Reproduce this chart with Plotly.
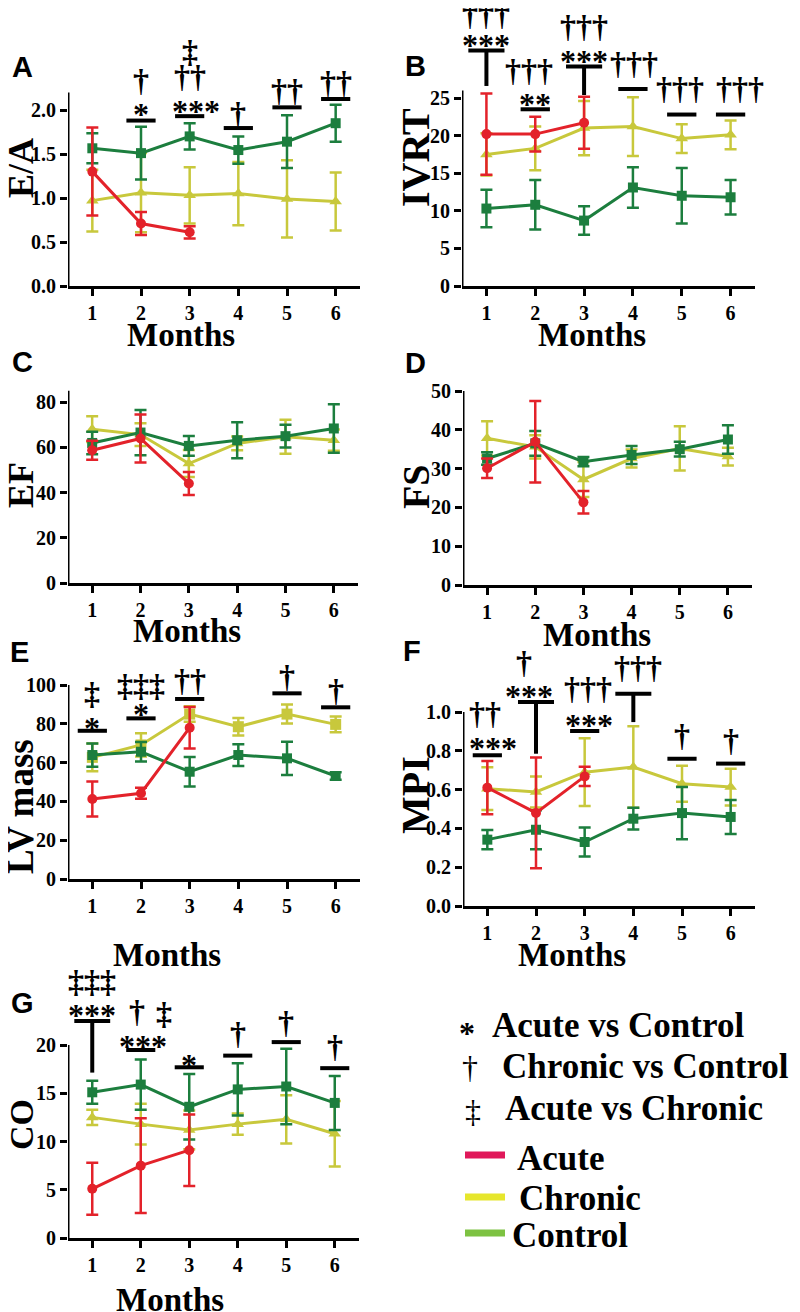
import plotly.graph_objects as go

W, H = 800, 1312
OX, OY = 8, 8  # page offset of the plot div inside the browser window
SERIF = "Liberation Serif"
SANS = "Liberation Sans"

months = [1, 2, 3, 4, 5, 6]
acute_months = [1, 2, 3]
tick_months = ["1", "2", "3", "4", "5", "6"]

# ---------------- data (mean, error) ----------------
# A  E/A
ea_acute = [1.30, 0.71, 0.61]
ea_acute_err = [0.50, 0.13, 0.07]
ea_chronic = [0.97, 1.06, 1.03, 1.05, 0.99, 0.96]
ea_chronic_err = [0.35, 0.45, 0.32, 0.36, 0.44, 0.33]
ea_control = [1.565, 1.51, 1.70, 1.545, 1.64, 1.85]
ea_control_err = [0.17, 0.30, 0.15, 0.155, 0.30, 0.21]

# B  IVRT
ivrt_acute = [20.2, 20.2, 21.7]
ivrt_acute_err = [5.4, 2.3, 3.45]
ivrt_chronic = [17.5, 18.3, 21.0, 21.2, 19.6, 20.1]
ivrt_chronic_err = [2.8, 2.9, 3.6, 3.9, 1.9, 1.9]
ivrt_control = [10.3, 10.8, 8.7, 13.1, 12.0, 11.8]
ivrt_control_err = [2.5, 3.3, 1.9, 2.7, 3.7, 2.3]

# C  EF
ef_acute = [58.7, 63.9, 44.0]
ef_acute_err = [4.2, 10.6, 5.1]
ef_chronic = [68.0, 65.6, 52.8, 61.7, 64.6, 63.1]
ef_chronic_err = [5.7, 5.0, 6.0, 3.0, 7.5, 4.7]
ef_control = [61.9, 66.5, 60.6, 63.1, 64.9, 68.3]
ef_control_err = [5.0, 10.0, 4.4, 8.0, 5.0, 10.7]

# D  FS
fs_acute = [30.1, 36.9, 21.3]
fs_acute_err = [2.5, 10.5, 2.9]
fs_chronic = [37.8, 35.6, 27.2, 32.6, 35.2, 33.1]
fs_chronic_err = [4.4, 3.0, 4.5, 2.3, 5.7, 2.3]
fs_control = [32.6, 36.5, 31.8, 33.5, 35.0, 37.5]
fs_control_err = [1.6, 3.2, 1.2, 2.3, 1.9, 3.7]

# E  LV mass
lv_acute = [41.2, 44.2, 78.0]
lv_acute_err = [9.0, 2.8, 10.7]
lv_chronic = [62.7, 69.1, 85.0, 78.5, 85.0, 79.7]
lv_chronic_err = [7.1, 6.0, 4.0, 4.5, 4.9, 4.0]
lv_control = [63.9, 65.6, 55.3, 63.9, 62.2, 53.1]
lv_control_err = [6.0, 5.0, 7.6, 5.6, 8.6, 1.9]

# F  MPI
mpi_acute = [0.61, 0.48, 0.668]
mpi_acute_err = [0.137, 0.285, 0.05]
mpi_chronic = [0.605, 0.588, 0.69, 0.716, 0.63, 0.613]
mpi_chronic_err = [0.11, 0.08, 0.175, 0.21, 0.093, 0.095]
mpi_control = [0.342, 0.393, 0.33, 0.45, 0.479, 0.459]
mpi_control_err = [0.05, 0.10, 0.075, 0.056, 0.135, 0.088]

# G  CO
co_acute = [5.1, 7.5, 9.1]
co_acute_err = [2.7, 4.9, 3.7]
co_chronic = [12.5, 11.8, 11.2, 11.8, 12.3, 10.8]
co_chronic_err = [0.8, 2.1, 2.0, 1.1, 2.5, 3.4]
co_control = [15.1, 15.9, 13.6, 15.4, 15.7, 14.0]
co_control_err = [1.2, 2.6, 3.4, 2.7, 3.9, 2.8]

# significance marks: (month, bar level, stem bottom or None, rows[(text, level, x offset)])
sig_a = [
    (2, 1.88, None, [("*", 2.02, 0), ("†", 2.32, 0)]),
    (3, 1.93, None, [("***", 2.06, 0.12), ("††", 2.36, 0), ("‡", 2.65, 0)]),
    (4, 1.795, None, [("†", 1.94, 0)]),
    (5, 2.03, None, [("††", 2.2, 0)]),
    (6, 2.125, None, [("††", 2.3, 0)]),
]
sig_b = [
    (1, 31.3, 26.6, [("***", 32.8, 0), ("†††", 35.9, 0)]),
    (2, 23.5, None, [("**", 24.96, 0), ("†††", 28.5, -0.12)]),
    (3, 29.2, 25.4, [("***", 30.7, 0), ("†††", 34.3, 0)]),
    (4, 26.2, None, [("†††", 29.4, 0.02)]),
    (5, 22.8, None, [("†††", 26.1, -0.04)]),
    (6, 22.8, None, [("†††", 26.1, 0.2)]),
]
sig_e = [
    (1, 76.4, None, [("*", 81.1, 0), ("‡", 94.8, 0)]),
    (2, 82.8, None, [("*", 88.0, 0), ("‡‡‡", 99.1, 0)]),
    (3, 92.8, None, [("††", 101.7, 0)]),
    (5, 95.7, None, [("†", 103.4, 0)]),
    (6, 88.5, None, [("†", 96.5, 0)]),
]
sig_f = [
    (1, 0.777, None, [("***", 0.845, 0.12), ("††", 0.983, -0.05)]),
    (2, 1.052, 0.785, [("***", 1.112, -0.14), ("†", 1.249, -0.24)]),
    (3, 0.902, None, [("***", 0.966, 0.08), ("†††", 1.112, 0.07)]),
    (4, 1.094, 0.948, [("†††", 1.223, 0.09)]),
    (5, 0.759, None, [("†", 0.871, 0)]),
    (6, 0.734, None, [("†", 0.845, 0)]),
]
sig_g = [
    (1, 22.48, 17.14, [("***", 23.69, 0), ("‡‡‡", 26.4, 0)]),
    (2, 19.48, None, [("***", 20.5, 0.05), ("†", 23.3, -0.08), ("‡", 23.1, 0.47)]),
    (3, 17.69, None, [("*", 18.6, 0)]),
    (4, 18.9, None, [("†", 21.0, 0)]),
    (5, 20.3, None, [("†", 22.2, 0)]),
    (6, 17.6, None, [("†", 19.66, 0)]),
]

RED = "#E3222A"
YEL = "#C8C83C"
GRN = "#1C7E3E"

panels = [
    dict(letter="A", title="E/A", tsize=36, tpos=(21, 168), mpos=(181, 335), lpos=(22, 67),
         xl=68, xr=360, y0=286, ref=(2.0, 110), top=2.2, ext=25,
         ticks=[0, 0.5, 1.0, 1.5, 2.0], fmt="{:.1f}",
         acute=(ea_acute, ea_acute_err), chronic=(ea_chronic, ea_chronic_err),
         control=(ea_control, ea_control_err), sig=sig_a, chsym="triangle-up"),
    dict(letter="B", title="IVRT", tsize=40, tpos=(415, 158), mpos=(592, 335), lpos=(415, 66),
         xl=462, xr=755, y0=286, ref=(25, 98), top=26, ext=0,
         ticks=[0, 5, 10, 15, 20, 25], fmt="{:d}",
         acute=(ivrt_acute, ivrt_acute_err), chronic=(ivrt_chronic, ivrt_chronic_err),
         control=(ivrt_control, ivrt_control_err), sig=sig_b, chsym="triangle-up"),
    dict(letter="C", title="EF", tsize=36, tpos=(21, 485), mpos=(187, 631), lpos=(22, 362),
         xl=68, xr=358, y0=583, ref=(80, 402), top=85, ext=375,
         ticks=[0, 20, 40, 60, 80], fmt="{:d}",
         acute=(ef_acute, ef_acute_err), chronic=(ef_chronic, ef_chronic_err),
         control=(ef_control, ef_control_err), sig=[], chsym="triangle-up"),
    dict(letter="D", title="FS", tsize=38, tpos=(416, 487), mpos=(597, 635), lpos=(415, 363),
         xl=463, xr=752, y0=585, ref=(50, 391), top=50, ext=385,
         ticks=[0, 10, 20, 30, 40, 50], fmt="{:d}",
         acute=(fs_acute, fs_acute_err), chronic=(fs_chronic, fs_chronic_err),
         control=(fs_control, fs_control_err), sig=[], chsym="triangle-up"),
    dict(letter="E", title="LV mass", tsize=37, tpos=(20, 807), mpos=(167, 955), lpos=(19, 652),
         xl=68, xr=360, y0=879, ref=(100, 685), top=100, ext=655,
         ticks=[0, 20, 40, 60, 80, 100], fmt="{:d}",
         acute=(lv_acute, lv_acute_err), chronic=(lv_chronic, lv_chronic_err),
         control=(lv_control, lv_control_err), sig=sig_e, chsym="square"),
    dict(letter="F", title="MPI", tsize=40, tpos=(415, 795), mpos=(572, 955), lpos=(412, 651),
         xl=463, xr=755, y0=906, ref=(1.0, 712), top=1.0, ext=650,
         ticks=[0, 0.2, 0.4, 0.6, 0.8, 1.0], fmt="{:.1f}",
         acute=(mpi_acute, mpi_acute_err), chronic=(mpi_chronic, mpi_chronic_err),
         control=(mpi_control, mpi_control_err), sig=sig_f, chsym="triangle-up"),
    dict(letter="G", title="CO", tsize=34, tpos=(21, 1125), mpos=(170, 1300), lpos=(22, 1003),
         xl=68, xr=359, y0=1238, ref=(20, 1045), top=20, ext=975,
         ticks=[0, 5, 10, 15, 20], fmt="{:d}",
         acute=(co_acute, co_acute_err), chronic=(co_chronic, co_chronic_err),
         control=(co_control, co_control_err), sig=sig_g, chsym="triangle-up"),
]


def px(x):
    return min(max((x - OX) / W, 0.0), 1.0)


def py(y):
    return min(max(1 - (y - OY) / H, 0.0), 1.0)


fig = go.Figure()
layout = {}
shapes = []
annotations = []

for i, p in enumerate(panels, start=1):
    xa = "x" if i == 1 else f"x{i}"
    ya = "y" if i == 1 else f"y{i}"
    scale = (p["y0"] - p["ref"][1]) / p["ref"][0]
    ext_px = max(p["ext"], OY)
    ext_top = (p["y0"] - ext_px) / scale
    layout["xaxis" if i == 1 else f"xaxis{i}"] = dict(
        domain=[px(p["xl"]), px(p["xr"])], range=[0.5, 6.5], anchor=ya, automargin=False,
        tickvals=months, ticktext=tick_months, showline=True, linecolor="black", linewidth=3,
        ticks="outside", ticklen=7, tickwidth=3, tickcolor="black",
        showgrid=False, zeroline=False, fixedrange=True,
        tickfont=dict(family=SERIF, size=20, color="black", weight="bold"))
    layout["yaxis" if i == 1 else f"yaxis{i}"] = dict(
        domain=[py(p["y0"]), py(ext_px)], range=[0, ext_top], anchor=xa, automargin=False,
        tickvals=p["ticks"], ticktext=[p["fmt"].format(v) for v in p["ticks"]],
        showline=False, ticks="outside", ticklen=7, tickwidth=3, tickcolor="black",
        showgrid=False, zeroline=False, fixedrange=True,
        tickfont=dict(family=SERIF, size=20, color="black", weight="bold"))

    # y axis line (only up to the axis top value)
    fig.add_trace(go.Scatter(x=[0.5, 0.5], y=[0, p["top"]], mode="lines",
                             line=dict(color="black", width=3), cliponaxis=False,
                             hoverinfo="skip", showlegend=False, xaxis=xa, yaxis=ya))

    series = [
        (months, p["chronic"], YEL, p["chsym"], 11),
        (months, p["control"], GRN, "square", 10),
        (acute_months, p["acute"], RED, "circle", 10),
    ]
    for xs, (vals, errs), col, sym, ms in series:
        fig.add_trace(go.Scatter(
            x=xs, y=vals, mode="lines+markers",
            line=dict(color=col, width=3),
            marker=dict(symbol=sym, size=ms, color=col),
            error_y=dict(type="data", array=errs, visible=True, color=col, thickness=2.5, width=6),
            cliponaxis=False, showlegend=False, xaxis=xa, yaxis=ya))

    for (m, bar, stem, rows) in p["sig"]:
        half = 0.37 if stem is not None else 0.3
        shapes.append(dict(type="line", xref=xa, yref=ya, x0=m - half, x1=m + half,
                           y0=bar, y1=bar, line=dict(color="black", width=4)))
        if stem is not None:
            shapes.append(dict(type="line", xref=xa, yref=ya, x0=m, x1=m,
                               y0=stem, y1=bar, line=dict(color="black", width=4)))
        for text, lvl, dx in rows:
            shift = -6 if "*" in text else 2
            annotations.append(dict(xref=xa, yref=ya, x=m + dx, y=lvl, text=text,
                                    showarrow=False, xanchor="center", yanchor="middle",
                                    yshift=shift,
                                    font=dict(family=SERIF, size=32, color="black", weight="bold")))

    # y title
    annotations.append(dict(xref="paper", yref="paper", x=px(p["tpos"][0]), y=py(p["tpos"][1]),
                            text=p["title"], textangle=-90, showarrow=False,
                            xanchor="center", yanchor="middle",
                            font=dict(family=SERIF, size=p["tsize"], color="black", weight="bold")))
    # x title
    annotations.append(dict(xref="paper", yref="paper", x=px(p["mpos"][0]), y=py(p["mpos"][1]),
                            text="Months", showarrow=False, xanchor="center", yanchor="middle",
                            font=dict(family=SERIF, size=33, color="black", weight="bold")))
    # panel letter
    annotations.append(dict(xref="paper", yref="paper", x=px(p["lpos"][0]), y=py(p["lpos"][1]),
                            text=p["letter"], showarrow=False, xanchor="center", yanchor="middle",
                            font=dict(family=SANS, size=29, color="black", weight="bold")))

# ---------------- legend ----------------
sig_legend_symbols = ["*", "†", "‡"]
sig_legend_labels = ["Acute vs Control", "Chronic vs Control", "Acute vs Chronic"]
sig_sym_pos = [(467, 1027), (470, 1067), (473, 1111)]
sig_lab_pos = [(490, 1025), (500, 1066), (503, 1108)]
for s, lab, sp, lp in zip(sig_legend_symbols, sig_legend_labels, sig_sym_pos, sig_lab_pos):
    annotations.append(dict(xref="paper", yref="paper", x=px(sp[0]), y=py(sp[1]), text=s,
                            showarrow=False, xanchor="center", yanchor="middle",
                            yshift=-6 if s == "*" else 0,
                            font=dict(family=SERIF, size=32, color="black",
                                      weight="bold" if s == "*" else "normal")))
    annotations.append(dict(xref="paper", yref="paper", x=px(lp[0]), y=py(lp[1]), text=lab,
                            showarrow=False, xanchor="left", yanchor="middle",
                            font=dict(family=SERIF, size=35, color="black", weight="bold")))

group_labels = ["Acute", "Chronic", "Control"]
group_colors = ["#E0185A", "#E6E62C", "#7DC242"]
group_line_y = [1155, 1197, 1233]
group_text_pos = [(515, 1158), (517, 1198), (510, 1235)]
for lab, col, ly, tp in zip(group_labels, group_colors, group_line_y, group_text_pos):
    shapes.append(dict(type="line", xref="paper", yref="paper", x0=px(465), x1=px(505),
                       y0=py(ly), y1=py(ly), line=dict(color=col, width=7)))
    annotations.append(dict(xref="paper", yref="paper", x=px(tp[0]), y=py(tp[1]), text=lab,
                            showarrow=False, xanchor="left", yanchor="middle",
                            font=dict(family=SERIF, size=35, color="black", weight="bold")))

fig.update_layout(width=W, height=H, margin=dict(l=0, r=0, t=0, b=0, pad=0), autosize=False,
                  paper_bgcolor="white", plot_bgcolor="rgba(0,0,0,0)",
                  showlegend=False, shapes=shapes, annotations=annotations, **layout)

fig.write_html("out.html")
